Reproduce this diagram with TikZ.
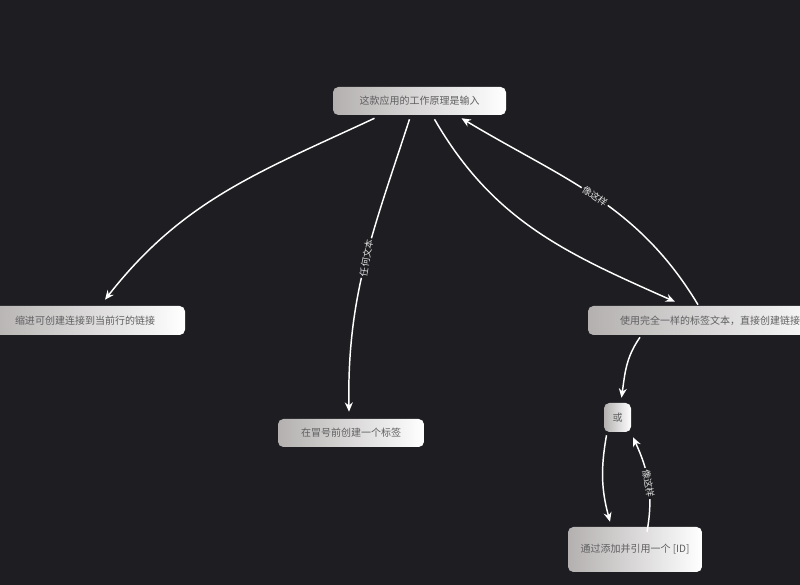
\documentclass[tikz,border=0pt]{standalone}
\usepackage{fontspec}
\setmainfont{Noto Sans CJK SC}
\usetikzlibrary{arrows.meta,calc}
\definecolor{bg}{RGB}{30,30,34}
\definecolor{boxl}{RGB}{180,176,176}
\definecolor{boxm}{RGB}{238,236,236}
\definecolor{txt}{RGB}{95,95,95}
\begin{document}
\begin{tikzpicture}[x=0.75pt,y=0.75pt,
  box/.style={rounded corners=4pt, left color=boxl, middle color=boxm, right color=white,
    text=txt, font=\fontsize{7.5pt}{9pt}\selectfont, inner sep=0pt, align=center},
  conn/.style={draw=white, line width=1.1pt, -{Stealth[length=7pt,width=6pt]}},
  lbl/.style={fill=bg, text=white!88!black, font=\fontsize{7pt}{8pt}\selectfont, inner sep=1.2pt}]
\useasboundingbox (0,0) rectangle (800,585);
\fill[bg] (0,0) rectangle (800,585);
\clip (0,0) rectangle (800,585);

\node[box, minimum width=129.75pt, minimum height=21pt] (t) at (419.5,484) {这款应用的工作原理是输入};
\node[box, minimum width=150pt, minimum height=21.75pt] (l) at (85,264.5) {缩进可创建连接到当前行的链接};
\node[box, minimum width=183pt, minimum height=21.75pt] (r) at (710,264.5) {使用完全一样的标签文本，直接创建链接};
\node[box, minimum width=109.5pt, minimum height=21pt] (m) at (351,152) {在冒号前创建一个标签};
\node[box, minimum width=20.25pt, minimum height=21.75pt] (o) at (617.5,167.5) {或};
\node[box, minimum width=100.5pt, minimum height=33.75pt] (b) at (635,35.5) {通过添加并引用一个 [ID]};

\draw[conn] ($(t.south)+(-45,-3)$) to[out=-155,in=52] ($(l.north)+(20,6)$);
\draw[conn] ($(t.south)+(-10,-4)$) to[out=-108,in=91]
  node[lbl, pos=0.48, rotate=80] {任何文本} ($(m.north)+(-2,7)$);
\draw[conn] ($(t.south)+(15,-4)$) to[out=-60,in=156] ($(r.north)+(-35,4)$);
\draw[conn] ($(r.north)+(-12,1)$) to[out=121,in=-31]
  node[lbl, pos=0.5, rotate=-35] {像这样} ($(t.south)+(42,-3)$);
\draw[conn] ($(r.south)+(-70,-2)$) to[out=-125,in=82] ($(o.north)+(4,5)$);
\draw[conn] ($(o.south)+(-11,-3)$) to[out=-100,in=105] ($(b.north)+(-25,5)$);
\draw[conn] ($(b.north)+(12,-5)$) to[out=80,in=-65]
  node[lbl, pos=0.5, rotate=-80] {像这样} ($(o.south)+(15.5,-5)$);
\end{tikzpicture}
\end{document}
